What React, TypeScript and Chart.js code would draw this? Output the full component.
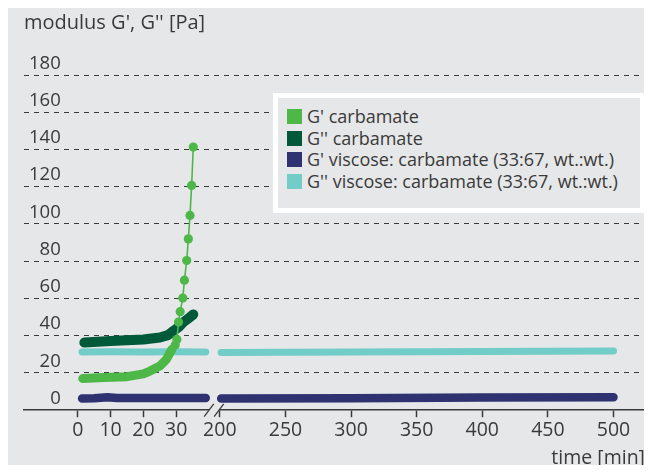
import React, { useEffect, useRef } from "react";
import { Chart, registerables } from "chart.js";

Chart.register(...registerables);

// ---- text ----
const yTitle = "modulus G', G'' [Pa]";
const xTitle = "time [min]";
const seriesNames = [
  "G' carbamate",
  "G'' carbamate",
  "G' viscose: carbamate (33:67, wt.:wt.)",
  "G'' viscose: carbamate (33:67, wt.:wt.)",
];

// ---- axes ----
const yMin = 0;
const yMax = 180;
const yStep = 20;
const xTickValues = [0, 10, 20, 30, 200, 250, 300, 350, 400, 450, 500];

// ---- data (time in min, modulus in Pa) ----
// G' carbamate: dense (overlapping markers) part, then sparse markers
const gpCarbDenseTime = [1.5, 8, 15, 20, 22, 25, 27, 28.7];
const gpCarbDenseValue = [17, 17.5, 18, 19.5, 21, 23.7, 27.3, 32.7];
const gpCarbSparseTime = [29.7, 30.2, 30.7, 31.2, 32.0, 32.5, 33.2, 33.7, 34.2, 34.7, 35.2];
const gpCarbSparseValue = [35, 38, 47.3, 52.9, 60.2, 69.8, 80.4, 92, 104.6, 120.7, 141.3];

// G'' carbamate
const gppCarbTime = [2, 10, 20, 25, 27.5, 29.1, 30.8, 32.2, 34, 35.2];
const gppCarbValue = [36.3, 37.1, 38, 39, 40.3, 42.5, 44.7, 47.3, 49.7, 51.4];

// G' viscose:carbamate (33:67)
const gpViscEarlyTime = [1.3, 5, 9, 12, 20, 30, 39];
const gpViscEarlyValue = [6.3, 6.4, 7.0, 6.6, 6.5, 6.5, 6.5];
const gpViscLateTime = [201, 300, 400, 500];
const gpViscLateValue = [6.3, 6.4, 6.8, 7.0];

// G'' viscose:carbamate (33:67)
const gppViscEarlyTime = [1.3, 10, 20, 30, 39];
const gppViscEarlyValue = [31.3, 31.4, 31.3, 31.4, 31.3];
const gppViscLateTime = [201, 300, 400, 500];
const gppViscLateValue = [31.0, 31.2, 31.5, 31.8];

// ---- style ----
const BG = "#e6e7e8";
const TEXT = "#3a3a3a";
const FONT = '"Open Sans", "Noto Sans", sans-serif';
const C_GP_CARB = "#4db848";
const C_GPP_CARB = "#005a3a";
const C_GP_VISC = "#2e3271";
const C_GPP_VISC = "#72ccc8";
const seriesColors = [C_GP_CARB, C_GPP_CARB, C_GP_VISC, C_GPP_VISC];

// ---- broken time axis: 0..40 min at full scale, 200..500 min at 0.4 ----
const EARLY_LIMIT = 100;
const LATE_START = 200;
const LATE_ORIGIN = 43.3;
const LATE_SCALE = 0.4;
const BREAK_U = 41.5;
const toAxis = (t: number) => (t <= EARLY_LIMIT ? t : LATE_ORIGIN + (t - LATE_START) * LATE_SCALE);

const pts = (ts: number[], vs: number[]) => ts.map((t, i) => ({ x: toAxis(t), y: vs[i] }));
const withBreak = (a: any[], b: any[]) => [...a, { x: BREAK_U, y: null }, ...b];

const axisBreakPlugin = {
  id: "axisBreak",
  afterDraw(chart: any) {
    const { ctx, chartArea } = chart;
    const x = chart.scales.x;
    const cx = x.getPixelForValue(BREAK_U);
    const y = chartArea.bottom;
    ctx.save();
    ctx.fillStyle = BG;
    ctx.fillRect(cx - 5, y - 2, 10, 4);
    ctx.strokeStyle = TEXT;
    ctx.lineWidth = 1.3;
    ctx.beginPath();
    for (const c of [cx - 5, cx + 5]) {
      ctx.moveTo(c - 4.8, y + 6.4);
      ctx.lineTo(c + 4.8, y - 6.4);
    }
    ctx.stroke();
    ctx.restore();
  },
};

export default function App() {
  const canvasRef = useRef<HTMLCanvasElement | null>(null);

  useEffect(() => {
    if (!canvasRef.current) return;
    const denseLen = gpCarbDenseTime.length;
    const chart = new Chart(canvasRef.current, {
      type: "line",
      data: {
        datasets: [
          {
            label: seriesNames[0],
            data: [...pts(gpCarbDenseTime, gpCarbDenseValue), ...pts(gpCarbSparseTime, gpCarbSparseValue)],
            borderColor: C_GP_CARB,
            backgroundColor: C_GP_CARB,
            pointBackgroundColor: C_GP_CARB,
            pointBorderWidth: 0,
            pointRadius: (c: any) => (c.dataIndex < denseLen ? 0 : 4.6),
            segment: {
              borderWidth: (c: any) => (c.p1DataIndex < denseLen ? 9 : 1.6),
            },
            borderCapStyle: "round",
            borderJoinStyle: "round",
            order: 0,
          },
          {
            label: seriesNames[1],
            data: pts(gppCarbTime, gppCarbValue),
            borderColor: C_GPP_CARB,
            backgroundColor: C_GPP_CARB,
            borderWidth: 10,
            pointRadius: 0,
            borderCapStyle: "round",
            borderJoinStyle: "round",
            order: 1,
          },
          {
            label: seriesNames[2],
            data: withBreak(pts(gpViscEarlyTime, gpViscEarlyValue), pts(gpViscLateTime, gpViscLateValue)),
            borderColor: C_GP_VISC,
            backgroundColor: C_GP_VISC,
            borderWidth: 8.5,
            pointRadius: 0,
            spanGaps: false,
            borderCapStyle: "round",
            borderJoinStyle: "round",
            order: 3,
          },
          {
            label: seriesNames[3],
            data: withBreak(pts(gppViscEarlyTime, gppViscEarlyValue), pts(gppViscLateTime, gppViscLateValue)),
            borderColor: C_GPP_VISC,
            backgroundColor: C_GPP_VISC,
            borderWidth: 7,
            pointRadius: 0,
            spanGaps: false,
            borderCapStyle: "round",
            borderJoinStyle: "round",
            order: 2,
          },
        ],
      } as any,
      options: {
        animation: false,
        responsive: false,
        events: [],
        layout: { padding: { left: 24, right: 7, top: 0, bottom: 0 } },
        plugins: {
          legend: { display: false },
          tooltip: { enabled: false },
          title: {
            display: true,
            text: yTitle,
            align: "start",
            color: TEXT,
            font: { family: FONT, size: 20, weight: "normal" },
            padding: { top: 11, bottom: 40 },
          },
        },
        scales: {
          x: {
            type: "linear",
            min: -16.4,
            max: 172.9,
            afterBuildTicks: (scale: any) => {
              scale.ticks = xTickValues.map((t) => ({ value: toAxis(t) }));
            },
            ticks: {
              autoSkip: false,
              maxRotation: 0,
              color: TEXT,
              font: { family: FONT, size: 19.5 },
              padding: 2,
              callback: (_v: any, i: number) => String(xTickValues[i]),
            },
            grid: {
              drawOnChartArea: false,
              drawTicks: true,
              tickLength: 7,
              tickColor: TEXT,
              tickWidth: 1.5,
            },
            border: { display: true, color: TEXT, width: 1.5 },
            title: {
              display: true,
              text: xTitle,
              align: "end",
              color: TEXT,
              font: { family: FONT, size: 19.5 },
              padding: { top: 2, bottom: 3 },
            },
          },
          y: {
            type: "linear",
            min: yMin,
            max: yMax,
            afterFit: (scale: any) => {
              scale.width = 0;
            },
            ticks: {
              stepSize: yStep,
              mirror: true,
              crossAlign: "far",
              padding: 5,
              labelOffset: -11.5,
              color: TEXT,
              font: { family: FONT, size: 18.5 },
            },
            grid: {
              drawTicks: false,
              color: (c: any) => (c.tick && c.tick.value === 0 ? "rgba(0,0,0,0)" : TEXT),
              lineWidth: 1,
            },
            border: { display: false, dash: [5, 5] },
          },
        },
      } as any,
      plugins: [axisBreakPlugin],
    });
    return () => chart.destroy();
  }, []);

  return (
    <div style={{ position: "relative", width: 652, height: 473, margin: -8, background: BG, overflow: "hidden" }}>
      <canvas ref={canvasRef} width={652} height={473} style={{ display: "block" }} />
      <div
        style={{
          position: "absolute",
          left: 273,
          top: 93,
          width: 372,
          height: 120,
          boxSizing: "border-box",
          border: "5px solid #ffffff",
          background: BG,
          padding: "8px 0 0 9px",
          fontFamily: FONT,
          fontSize: 18,
          lineHeight: "21.5px",
          color: TEXT,
        }}
      >
        {seriesNames.map((name, i) => (
          <div key={name} style={{ display: "flex", alignItems: "center", whiteSpace: "nowrap" }}>
            <span style={{ display: "inline-block", width: 15, height: 15, background: seriesColors[i], marginRight: 5, flex: "none" }} />
            <span>{name}</span>
          </div>
        ))}
      </div>
    </div>
  );
}
